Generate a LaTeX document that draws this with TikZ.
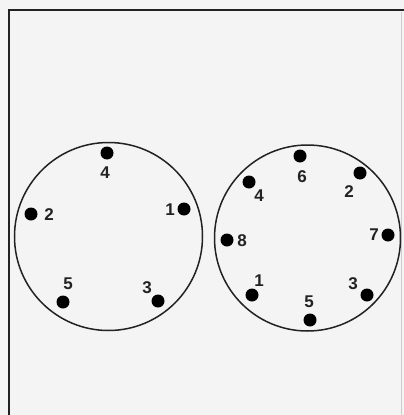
\documentclass[tikz,border=0pt]{standalone}
\usepackage{fontspec}
\setmainfont{Liberation Sans}
\usetikzlibrary{positioning}

\definecolor{paper}{HTML}{F4F4F4}
\definecolor{ink}{HTML}{222222}

\begin{document}
\begin{tikzpicture}[
    x=1pt, y=-1pt,
    pin/.style={circle, fill=black, inner sep=0pt, minimum size=13pt},
    num/.style={inner sep=0pt, font=\fontsize{17}{17}\selectfont\bfseries, text=ink},
    ring/.style={draw=ink, line width=1.5pt}
  ]
  % paper and frame
  \fill[paper] (0,0) rectangle (404,415);
  \useasboundingbox (0,0) rectangle (404,415);
  \draw[ink, line width=2.8pt] (9,415) -- (9,10) -- (404,10);
  \draw[black!20, line width=0.8pt] (401,12) -- (401,415);

  % left connector
  \node[ring, circle, minimum size=188pt] (left) at (108.5,236.5) {};
  \node[pin] (l4) at (107,153) {};
  \node[pin] (l1) at (184,209) {};
  \node[pin] (l2) at (31,214) {};
  \node[pin] (l5) at (63,302) {};
  \node[pin] (l3) at (158,301) {};
  \node[num] (t4) at (105,173) {4};
  \node[num] (t1) at (170,210) {1};
  \node[num] (t2) at (49,215) {2};
  \node[num] (t5) at (68,284) {5};
  \node[num] (t3) at (147,288) {3};

  % right connector
  \node[ring, circle, minimum size=186pt] (right) at (307.5,238) {};
  \node[pin] (r6) at (300,156) {};
  \node[pin] (r2) at (360,173) {};
  \node[pin] (r4) at (249,182) {};
  \node[pin] (r8) at (227,240) {};
  \node[pin] (r7) at (388,235) {};
  \node[pin] (r1) at (252,295) {};
  \node[pin] (r5) at (310,320) {};
  \node[pin] (r3) at (367,295) {};
  \node[num] (s6) at (302,177) {6};
  \node[num] (s2) at (349,192) {2};
  \node[num] (s4) at (259,196) {4};
  \node[num] (s8) at (242,241) {8};
  \node[num] (s7) at (374,235) {7};
  \node[num] (s1) at (259,281) {1};
  \node[num] (s5) at (309,302) {5};
  \node[num] (s3) at (353,284) {3};
\end{tikzpicture}
\end{document}
